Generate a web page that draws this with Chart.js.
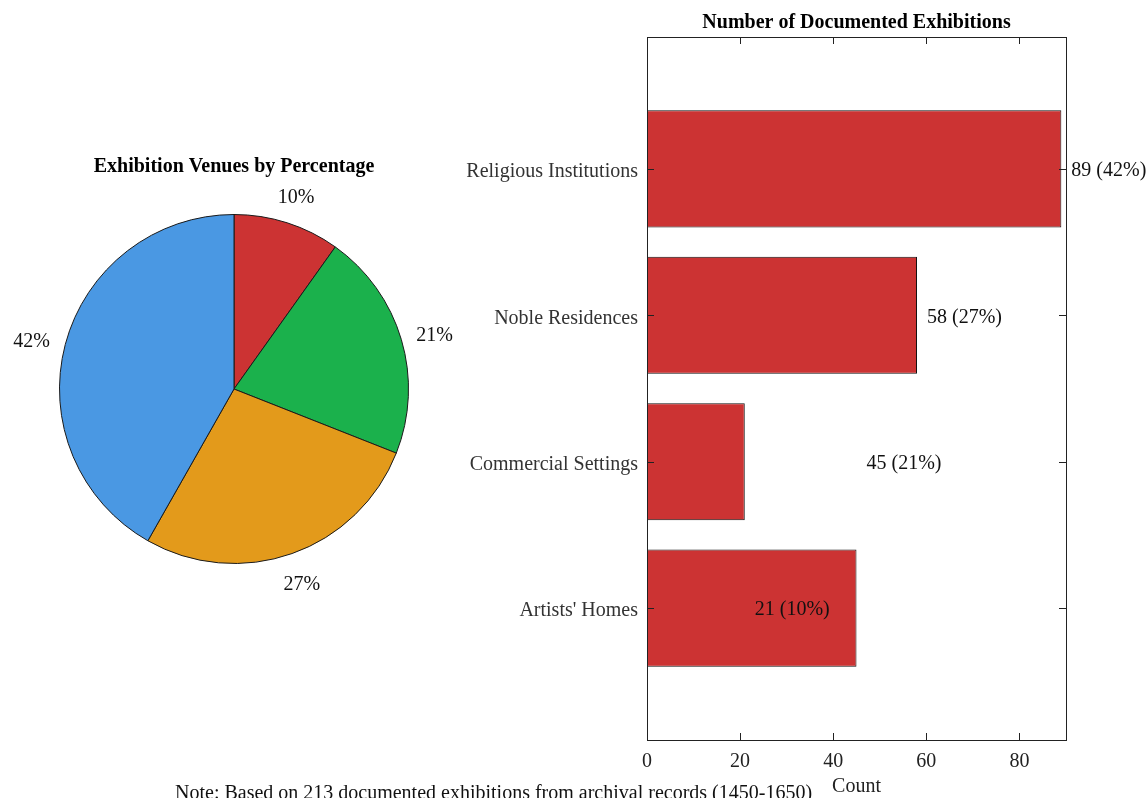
<!DOCTYPE html>
<html><head><meta charset="utf-8">
<script src="https://cdn.jsdelivr.net/npm/chart.js@4.4.1/dist/chart.umd.min.js"></script>
<style>
html,body{margin:0;padding:0;background:#fff;width:1148px;height:798px;overflow:hidden;position:relative}
canvas{position:absolute;top:0}
#pie{left:0}
#bar{left:440px}
#note{position:absolute;left:175px;top:782px;font-family:'Liberation Serif',serif;font-size:20px;line-height:20px;white-space:nowrap;color:#111}
</style></head><body>
<canvas id="pie" width="480" height="798"></canvas>
<canvas id="bar" width="708" height="798"></canvas>
<div id="note">Note: Based on 213 documented exhibitions from archival records (1450-1650)</div>
<script>
// ---- data ----
const categories = ["Religious Institutions", "Noble Residences", "Commercial Settings", "Artists' Homes"];
const barValues = [89, 58, 21, 45];
const barLabelValues = [89, 58, 45, 21];
const barLabelPcts = [42, 27, 21, 10];
const xTickValues = [0, 20, 40, 60, 80];
const pieLabels = ["Artists' Homes", "Commercial Settings", "Noble Residences", "Religious Institutions"];
const pieValues = [21, 45, 58, 89];
const pieColors = ["#CC3333", "#1BB14C", "#E39A1B", "#4A98E3"];
const barColor = "#CC3333";

const FONT = "'Liberation Serif', 'Times New Roman', serif";
const FS = 20;
const TY = 2; // vertical nudge for middle-baseline text
Chart.defaults.font.family = FONT;
Chart.defaults.font.size = FS;

// ---- pie ----
const pieLabelPlugin = {
  id: 'pieLabels',
  afterDraw(chart) {
    const ctx = chart.ctx;
    const meta = chart.getDatasetMeta(0);
    const total = pieValues.reduce((a, b) => a + b, 0);
    ctx.save();
    ctx.font = FS + "px " + FONT;
    ctx.fillStyle = "#111";
    ctx.textAlign = "center";
    ctx.textBaseline = "middle";
    meta.data.forEach((arc, i) => {
      const p = arc.getProps(['x', 'y', 'startAngle', 'endAngle', 'outerRadius'], true);
      const mid = (p.startAngle + p.endAngle) / 2;
      const h = Math.abs(Math.cos(mid));
      const r = p.outerRadius * 1.155 + 8 * h;
      const pct = Math.round(pieValues[i] / total * 100) + "%";
      ctx.fillText(pct, p.x + Math.cos(mid) * r, p.y + Math.sin(mid) * r + TY + 4 * h);
    });
    ctx.font = "bold " + FS + "px " + FONT;
    ctx.fillStyle = "#000";
    ctx.fillText("Exhibition Venues by Percentage", meta.data[0].x, 165 + TY);
    ctx.restore();
  }
};

new Chart(document.getElementById('pie'), {
  type: 'pie',
  data: {
    labels: pieLabels,
    datasets: [{ data: pieValues, backgroundColor: pieColors, borderColor: '#1a1a1a', borderWidth: 1, hoverOffset: 0 }]
  },
  options: {
    responsive: false,
    animation: false,
    layout: { padding: { left: 59, right: 71, top: 214, bottom: 234 } },
    plugins: { legend: { display: false }, tooltip: { enabled: false } }
  },
  plugins: [pieLabelPlugin]
});

// ---- bar ----
const barDecor = {
  id: 'barDecor',
  afterDatasetsDraw(chart) {
    const { ctx, chartArea: a, scales: { x, y } } = chart;
    ctx.save();
    ctx.strokeStyle = '#222';
    ctx.lineWidth = 1;
    ctx.strokeRect(Math.round(a.left) + 0.5, Math.round(a.top) + 0.5, Math.round(a.right - a.left), Math.round(a.bottom - a.top));
    ctx.beginPath();
    xTickValues.forEach(v => {
      const px = Math.round(x.getPixelForValue(v)) + 0.5;
      ctx.moveTo(px, a.bottom); ctx.lineTo(px, a.bottom - 7);
      ctx.moveTo(px, a.top); ctx.lineTo(px, a.top + 7);
    });
    categories.forEach((c, i) => {
      const py = Math.round(y.getPixelForValue(i)) + 0.5;
      ctx.moveTo(a.left, py); ctx.lineTo(a.left + 7, py);
      ctx.moveTo(a.right, py); ctx.lineTo(a.right - 7, py);
    });
    ctx.stroke();
    // value labels
    ctx.font = FS + "px " + FONT;
    ctx.fillStyle = '#111';
    ctx.textAlign = 'left';
    ctx.textBaseline = 'middle';
    barLabelValues.forEach((v, i) => {
      ctx.fillText(v + " (" + barLabelPcts[i] + "%)", x.getPixelForValue(v) + 10, y.getPixelForValue(i) + TY);
    });
    // titles
    ctx.textAlign = 'center';
    ctx.fillStyle = '#000';
    ctx.font = "bold " + FS + "px " + FONT;
    ctx.fillText("Number of Documented Exhibitions", (a.left + a.right) / 2, 21 + TY);
    ctx.font = FS + "px " + FONT;
    ctx.fillStyle = '#222';
    ctx.fillText("Count", (a.left + a.right) / 2, 785 + TY);
    ctx.restore();
  }
};

new Chart(document.getElementById('bar'), {
  type: 'bar',
  data: {
    datasets: [{
      data: barValues.map((v, i) => ({ x: v, y: i })),
      backgroundColor: barColor,
      borderColor: '#111',
      borderWidth: 1,
      barPercentage: 0.8,
      categoryPercentage: 1
    }]
  },
  options: {
    indexAxis: 'y',
    responsive: false,
    animation: false,
    layout: { padding: { top: 37, right: 82, left: 0, bottom: 0 } },
    scales: {
      x: {
        type: 'linear', min: 0, max: 90, offset: false,
        afterBuildTicks(s) { s.ticks = xTickValues.map(v => ({ value: v })); },
        ticks: { color: '#222', padding: 10, font: { size: FS } },
        grid: { display: false, drawTicks: false },
        border: { display: false },
        afterFit(s) { s.height = 58; }
      },
      y: {
        type: 'linear', min: -0.9, max: 3.9, reverse: true, offset: false, grace: 0,
        afterBuildTicks(s) { s.ticks = categories.map((c, i) => ({ value: i })); },
        ticks: { color: '#333', padding: 9, labelOffset: 3, font: { size: FS }, callback: (v) => categories[v] },
        grid: { display: false, drawTicks: false },
        border: { display: false },
        afterFit(s) { s.width = 207; }
      }
    },
    plugins: { legend: { display: false }, tooltip: { enabled: false } }
  },
  plugins: [barDecor]
});
</script>
</body></html>
